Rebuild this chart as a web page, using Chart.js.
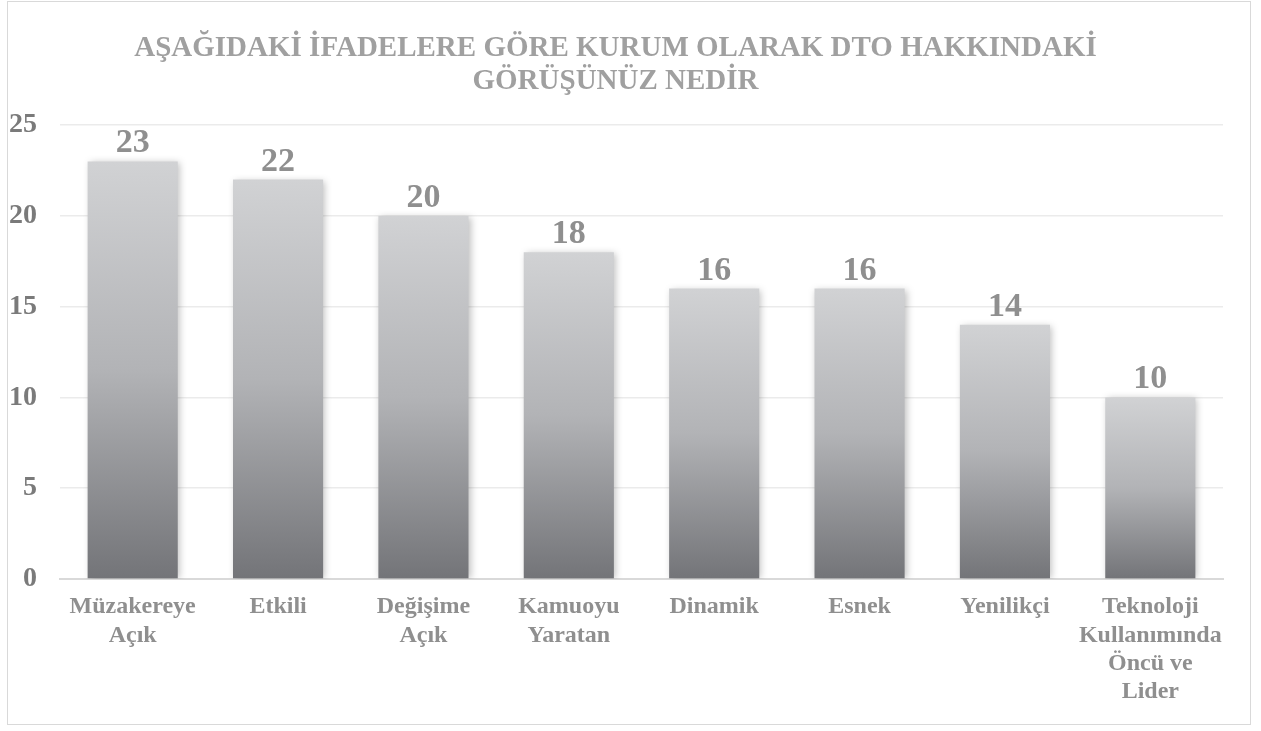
<!DOCTYPE html>
<html>
<head>
<meta charset="utf-8">
<script src="https://cdn.jsdelivr.net/npm/chart.js@4"></script>
<style>
  body { margin: 0; background: #fff; }
  #kutu { position: absolute; left: 7px; top: 1px; width: 1242px; height: 722px; border: 1px solid #d9d9d9; }
  canvas { display: block; }
</style>
</head>
<body>
<div id="kutu"><canvas id="grafik" width="1242" height="722"></canvas></div>
<script>
// Veriler
const kategoriler = [
  ["Müzakereye", "Açık"],
  "Etkili",
  ["Değişime", "Açık"],
  ["Kamuoyu", "Yaratan"],
  "Dinamik",
  "Esnek",
  "Yenilikçi",
  ["Teknoloji", "Kullanımında", "Öncü ve", "Lider"]
];
const degerler = [23, 22, 20, 18, 16, 16, 14, 10];
const baslik = ["AŞAĞIDAKİ İFADELERE GÖRE KURUM OLARAK DTO HAKKINDAKİ", "GÖRÜŞÜNÜZ NEDİR"];

const yaziTipi = "'Liberation Serif', 'Times New Roman', serif";

// Her çubuk için üstten alta degrade
function degrade(context) {
  const chart = context.chart;
  const y = chart.scales.y;
  if (!chart.chartArea || !y || context.parsed === undefined) return "#a5a6a9";
  const ust = y.getPixelForValue(context.parsed.y);
  const alt = y.getPixelForValue(0);
  const g = chart.ctx.createLinearGradient(0, ust, 0, alt);
  g.addColorStop(0, "#d1d2d4");
  g.addColorStop(0.5, "#b2b3b6");
  g.addColorStop(1, "#737478");
  return g;
}

// Çubuk gölgesi
const golge = {
  id: "golge",
  beforeDatasetsDraw(chart) {
    const ctx = chart.ctx;
    ctx.save();
    ctx.shadowColor = "rgba(0,0,0,0.25)";
    ctx.shadowBlur = 7;
    ctx.shadowOffsetX = 2;
    ctx.shadowOffsetY = 1;
  },
  afterDatasetsDraw(chart) {
    chart.ctx.restore();
  }
};

// Değer etiketleri
const etiketler = {
  id: "etiketler",
  afterDatasetsDraw(chart) {
    const ctx = chart.ctx;
    const meta = chart.getDatasetMeta(0);
    ctx.save();
    ctx.font = "bold 34px " + yaziTipi;
    ctx.fillStyle = "#8f8f8f";
    ctx.textAlign = "center";
    ctx.textBaseline = "alphabetic";
    meta.data.forEach(function (bar, i) {
      ctx.fillText(String(degerler[i]), bar.x, bar.y - 9);
    });
    ctx.restore();
  }
};

const ctx = document.getElementById("grafik").getContext("2d");
new Chart(ctx, {
  type: "bar",
  data: {
    labels: kategoriler,
    datasets: [{
      data: degerler,
      backgroundColor: degrade,
      borderWidth: 0,
      categoryPercentage: 1,
      barPercentage: 0.62
    }]
  },
  options: {
    responsive: false,
    animation: false,
    layout: { padding: { left: 0, right: 27, top: 0, bottom: 0 } },
    plugins: {
      legend: { display: false },
      tooltip: { enabled: false },
      title: {
        display: true,
        text: baslik,
        color: "#a0a0a0",
        font: { family: yaziTipi, size: 29, weight: "bold", lineHeight: 1.14 },
        padding: { top: 30, bottom: 27 }
      }
    },
    scales: {
      x: {
        grid: { display: false },
        border: { color: "#d9d9d9", width: 2 },
        afterFit(scale) { scale.height = 145; },
        ticks: {
          color: "#8f8f8f",
          font: { family: yaziTipi, size: 24, weight: "bold", lineHeight: 1.18 },
          maxRotation: 0,
          autoSkip: false,
          padding: 6
        }
      },
      y: {
        min: 0,
        max: 25,
        afterFit(scale) { scale.width = 52; },
        ticks: {
          stepSize: 5,
          color: "#7a7a7a",
          font: { family: yaziTipi, size: 28, weight: "bold" },
          padding: 23
        },
        grid: { color: "#ebebeb", lineWidth: 1.5, drawTicks: false },
        border: { display: false }
      }
    }
  },
  plugins: [golge, etiketler]
});
</script>
</body>
</html>
